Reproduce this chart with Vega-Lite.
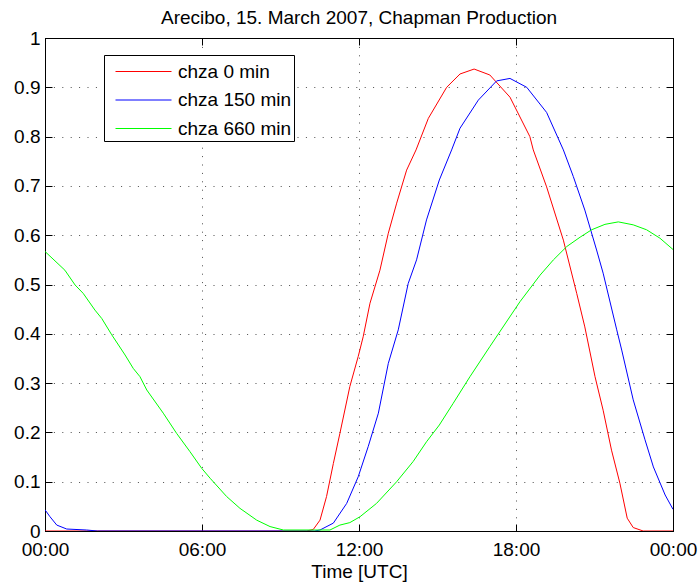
{
  "$schema": "https://vega.github.io/schema/vega-lite/v6.json",
  "width": 628,
  "height": 493,
  "autosize": {"type": "none"},
  "padding": {"left": 45, "top": 38, "right": 26, "bottom": 54},
  "background": "white",
  "config": {
    "font": "Liberation Sans",
    "view": {"stroke": "black", "strokeWidth": 1},
    "axis": {
      "labelFont": "Liberation Sans",
      "titleFont": "Liberation Sans",
      "labelFontSize": 19,
      "titleFontSize": 19,
      "labelColor": "black",
      "titleColor": "black",
      "titleFontWeight": "normal",
      "domainColor": "black",
      "tickColor": "black",
      "gridColor": "black",
      "gridOpacity": 0.7,
      "gridDash": [1, 7.4],
      "gridWidth": 1,
      "labelFlush": false
    }
  },
  "title": {
    "text": "Arecibo, 15. March 2007, Chapman Production",
    "font": "Liberation Sans",
    "fontSize": 19,
    "fontWeight": "normal",
    "color": "black",
    "anchor": "middle",
    "offset": 1
  },
  "data": {
    "values": [
      {"h": 0, "v": 0, "s": "chza 0 min"},
      {"h": 10.0, "v": 0, "s": "chza 0 min"},
      {"h": 10.25, "v": 0.003, "s": "chza 0 min"},
      {"h": 10.51, "v": 0.022, "s": "chza 0 min"},
      {"h": 10.76, "v": 0.07, "s": "chza 0 min"},
      {"h": 11.02, "v": 0.137, "s": "chza 0 min"},
      {"h": 11.27, "v": 0.198, "s": "chza 0 min"},
      {"h": 11.65, "v": 0.293, "s": "chza 0 min"},
      {"h": 11.97, "v": 0.354, "s": "chza 0 min"},
      {"h": 12.16, "v": 0.394, "s": "chza 0 min"},
      {"h": 12.42, "v": 0.462, "s": "chza 0 min"},
      {"h": 12.8, "v": 0.529, "s": "chza 0 min"},
      {"h": 13.12, "v": 0.604, "s": "chza 0 min"},
      {"h": 13.44, "v": 0.665, "s": "chza 0 min"},
      {"h": 13.82, "v": 0.732, "s": "chza 0 min"},
      {"h": 14.18, "v": 0.773, "s": "chza 0 min"},
      {"h": 14.65, "v": 0.837, "s": "chza 0 min"},
      {"h": 15.35, "v": 0.9, "s": "chza 0 min"},
      {"h": 15.86, "v": 0.927, "s": "chza 0 min"},
      {"h": 16.4, "v": 0.937, "s": "chza 0 min"},
      {"h": 17.0, "v": 0.925, "s": "chza 0 min"},
      {"h": 17.77, "v": 0.88, "s": "chza 0 min"},
      {"h": 18.53, "v": 0.8, "s": "chza 0 min"},
      {"h": 18.66, "v": 0.773, "s": "chza 0 min"},
      {"h": 19.17, "v": 0.698, "s": "chza 0 min"},
      {"h": 19.81, "v": 0.59, "s": "chza 0 min"},
      {"h": 20.32, "v": 0.482, "s": "chza 0 min"},
      {"h": 20.63, "v": 0.414, "s": "chza 0 min"},
      {"h": 21.02, "v": 0.313, "s": "chza 0 min"},
      {"h": 21.33, "v": 0.245, "s": "chza 0 min"},
      {"h": 21.65, "v": 0.164, "s": "chza 0 min"},
      {"h": 21.97, "v": 0.097, "s": "chza 0 min"},
      {"h": 22.25, "v": 0.026, "s": "chza 0 min"},
      {"h": 22.48, "v": 0.007, "s": "chza 0 min"},
      {"h": 22.86, "v": 0, "s": "chza 0 min"},
      {"h": 24, "v": 0, "s": "chza 0 min"},

      {"h": 0, "v": 0.043, "s": "chza 150 min"},
      {"h": 0.19, "v": 0.029, "s": "chza 150 min"},
      {"h": 0.45, "v": 0.012, "s": "chza 150 min"},
      {"h": 0.83, "v": 0.004, "s": "chza 150 min"},
      {"h": 1.59, "v": 0.002, "s": "chza 150 min"},
      {"h": 2.0, "v": 0, "s": "chza 150 min"},
      {"h": 10.3, "v": 0, "s": "chza 150 min"},
      {"h": 10.51, "v": 0.002, "s": "chza 150 min"},
      {"h": 11.02, "v": 0.016, "s": "chza 150 min"},
      {"h": 11.53, "v": 0.056, "s": "chza 150 min"},
      {"h": 11.97, "v": 0.11, "s": "chza 150 min"},
      {"h": 12.35, "v": 0.171, "s": "chza 150 min"},
      {"h": 12.74, "v": 0.239, "s": "chza 150 min"},
      {"h": 13.12, "v": 0.34, "s": "chza 150 min"},
      {"h": 13.5, "v": 0.408, "s": "chza 150 min"},
      {"h": 13.88, "v": 0.502, "s": "chza 150 min"},
      {"h": 14.2, "v": 0.55, "s": "chza 150 min"},
      {"h": 14.58, "v": 0.631, "s": "chza 150 min"},
      {"h": 15.07, "v": 0.712, "s": "chza 150 min"},
      {"h": 15.54, "v": 0.773, "s": "chza 150 min"},
      {"h": 15.86, "v": 0.817, "s": "chza 150 min"},
      {"h": 16.56, "v": 0.874, "s": "chza 150 min"},
      {"h": 17.26, "v": 0.913, "s": "chza 150 min"},
      {"h": 17.77, "v": 0.918, "s": "chza 150 min"},
      {"h": 18.41, "v": 0.9, "s": "chza 150 min"},
      {"h": 19.17, "v": 0.849, "s": "chza 150 min"},
      {"h": 19.81, "v": 0.773, "s": "chza 150 min"},
      {"h": 20.19, "v": 0.719, "s": "chza 150 min"},
      {"h": 20.63, "v": 0.651, "s": "chza 150 min"},
      {"h": 21.08, "v": 0.57, "s": "chza 150 min"},
      {"h": 21.33, "v": 0.523, "s": "chza 150 min"},
      {"h": 21.85, "v": 0.408, "s": "chza 150 min"},
      {"h": 22.04, "v": 0.367, "s": "chza 150 min"},
      {"h": 22.48, "v": 0.266, "s": "chza 150 min"},
      {"h": 22.93, "v": 0.185, "s": "chza 150 min"},
      {"h": 23.25, "v": 0.13, "s": "chza 150 min"},
      {"h": 23.7, "v": 0.073, "s": "chza 150 min"},
      {"h": 24, "v": 0.044, "s": "chza 150 min"},

      {"h": 0, "v": 0.567, "s": "chza 660 min"},
      {"h": 0.76, "v": 0.529, "s": "chza 660 min"},
      {"h": 1.15, "v": 0.499, "s": "chza 660 min"},
      {"h": 1.46, "v": 0.482, "s": "chza 660 min"},
      {"h": 1.91, "v": 0.448, "s": "chza 660 min"},
      {"h": 2.17, "v": 0.431, "s": "chza 660 min"},
      {"h": 2.55, "v": 0.398, "s": "chza 660 min"},
      {"h": 3.06, "v": 0.357, "s": "chza 660 min"},
      {"h": 3.37, "v": 0.33, "s": "chza 660 min"},
      {"h": 3.63, "v": 0.313, "s": "chza 660 min"},
      {"h": 3.89, "v": 0.286, "s": "chza 660 min"},
      {"h": 4.52, "v": 0.239, "s": "chza 660 min"},
      {"h": 5.03, "v": 0.198, "s": "chza 660 min"},
      {"h": 5.54, "v": 0.161, "s": "chza 660 min"},
      {"h": 5.99, "v": 0.127, "s": "chza 660 min"},
      {"h": 6.31, "v": 0.107, "s": "chza 660 min"},
      {"h": 6.94, "v": 0.07, "s": "chza 660 min"},
      {"h": 7.45, "v": 0.046, "s": "chza 660 min"},
      {"h": 8.09, "v": 0.022, "s": "chza 660 min"},
      {"h": 8.6, "v": 0.009, "s": "chza 660 min"},
      {"h": 9.11, "v": 0.002, "s": "chza 660 min"},
      {"h": 10.13, "v": 0.002, "s": "chza 660 min"},
      {"h": 10.89, "v": 0.002, "s": "chza 660 min"},
      {"h": 11.27, "v": 0.012, "s": "chza 660 min"},
      {"h": 11.65, "v": 0.017, "s": "chza 660 min"},
      {"h": 12.04, "v": 0.029, "s": "chza 660 min"},
      {"h": 12.67, "v": 0.056, "s": "chza 660 min"},
      {"h": 13.44, "v": 0.1, "s": "chza 660 min"},
      {"h": 14.07, "v": 0.141, "s": "chza 660 min"},
      {"h": 14.58, "v": 0.181, "s": "chza 660 min"},
      {"h": 15.07, "v": 0.215, "s": "chza 660 min"},
      {"h": 15.6, "v": 0.259, "s": "chza 660 min"},
      {"h": 16.24, "v": 0.313, "s": "chza 660 min"},
      {"h": 17.0, "v": 0.374, "s": "chza 660 min"},
      {"h": 18.15, "v": 0.465, "s": "chza 660 min"},
      {"h": 18.92, "v": 0.519, "s": "chza 660 min"},
      {"h": 19.43, "v": 0.55, "s": "chza 660 min"},
      {"h": 19.94, "v": 0.577, "s": "chza 660 min"},
      {"h": 20.45, "v": 0.596, "s": "chza 660 min"},
      {"h": 20.89, "v": 0.611, "s": "chza 660 min"},
      {"h": 21.4, "v": 0.622, "s": "chza 660 min"},
      {"h": 21.91, "v": 0.627, "s": "chza 660 min"},
      {"h": 22.48, "v": 0.621, "s": "chza 660 min"},
      {"h": 22.99, "v": 0.611, "s": "chza 660 min"},
      {"h": 23.5, "v": 0.594, "s": "chza 660 min"},
      {"h": 24, "v": 0.571, "s": "chza 660 min"}
    ]
  },
  "layer": [
    {
      "mark": {"type": "line", "strokeWidth": 1, "clip": true},
      "encoding": {
        "x": {
          "field": "h",
          "type": "quantitative",
          "scale": {"domain": [0, 24], "nice": false, "zero": false},
          "axis": {
            "orient": "bottom",
            "values": [0, 6, 12, 18, 24],
            "labelExpr": "(datum.value % 24 < 10 ? '0' : '') + (datum.value % 24) + ':00'",
            "title": "Time [UTC]",
            "tickSize": -7,
            "labelPadding": 16,
            "titlePadding": 3,
            "grid": true
          }
        },
        "y": {
          "field": "v",
          "type": "quantitative",
          "scale": {"domain": [0, 1], "nice": false},
          "axis": {
            "orient": "left",
            "values": [0, 0.1, 0.2, 0.3, 0.4, 0.5, 0.6, 0.7, 0.8, 0.9, 1],
            "format": "~g",
            "title": null,
            "tickSize": -7,
            "labelPadding": 12,
            "grid": true
          }
        },
        "color": {
          "field": "s",
          "type": "nominal",
          "scale": {
            "domain": ["chza 0 min", "chza 150 min", "chza 660 min"],
            "range": ["#ff0000", "#0000ff", "#00ff00"]
          },
          "legend": {
            "title": null,
            "orient": "none",
            "legendX": 59,
            "legendY": 17,
            "strokeColor": "black",
            "fillColor": "white",
            "padding": 2,
            "rowPadding": 3.5,
            "symbolType": "M-2,0H2",
            "symbolSize": 784,
            "symbolStrokeWidth": 1,
            "symbolOffset": 23,
            "labelOffset": 20,
            "labelFont": "Liberation Sans",
            "labelFontSize": 19,
            "labelColor": "black",
            "encode": {
              "symbols": {
                "update": {
                  "stroke": {"scale": "color", "field": "value"},
                  "fill": {"value": "transparent"}
                }
              }
            }
          }
        }
      }
    },
    {
      "mark": {"type": "line", "opacity": 0},
      "encoding": {
        "x": {
          "field": "h",
          "type": "quantitative",
          "scale": {"domain": [0, 24], "nice": false, "zero": false},
          "axis": {
            "orient": "top",
            "values": [0, 6, 12, 18, 24],
            "labels": false,
            "title": null,
            "tickSize": -7,
            "grid": false
          }
        },
        "y": {
          "field": "v",
          "type": "quantitative",
          "scale": {"domain": [0, 1], "nice": false},
          "axis": {
            "orient": "right",
            "values": [0, 0.1, 0.2, 0.3, 0.4, 0.5, 0.6, 0.7, 0.8, 0.9, 1],
            "labels": false,
            "title": null,
            "tickSize": -7,
            "grid": false
          }
        },
        "detail": {"field": "s", "type": "nominal"}
      }
    }
  ],
  "resolve": {"axis": {"x": "independent", "y": "independent"}}
}
